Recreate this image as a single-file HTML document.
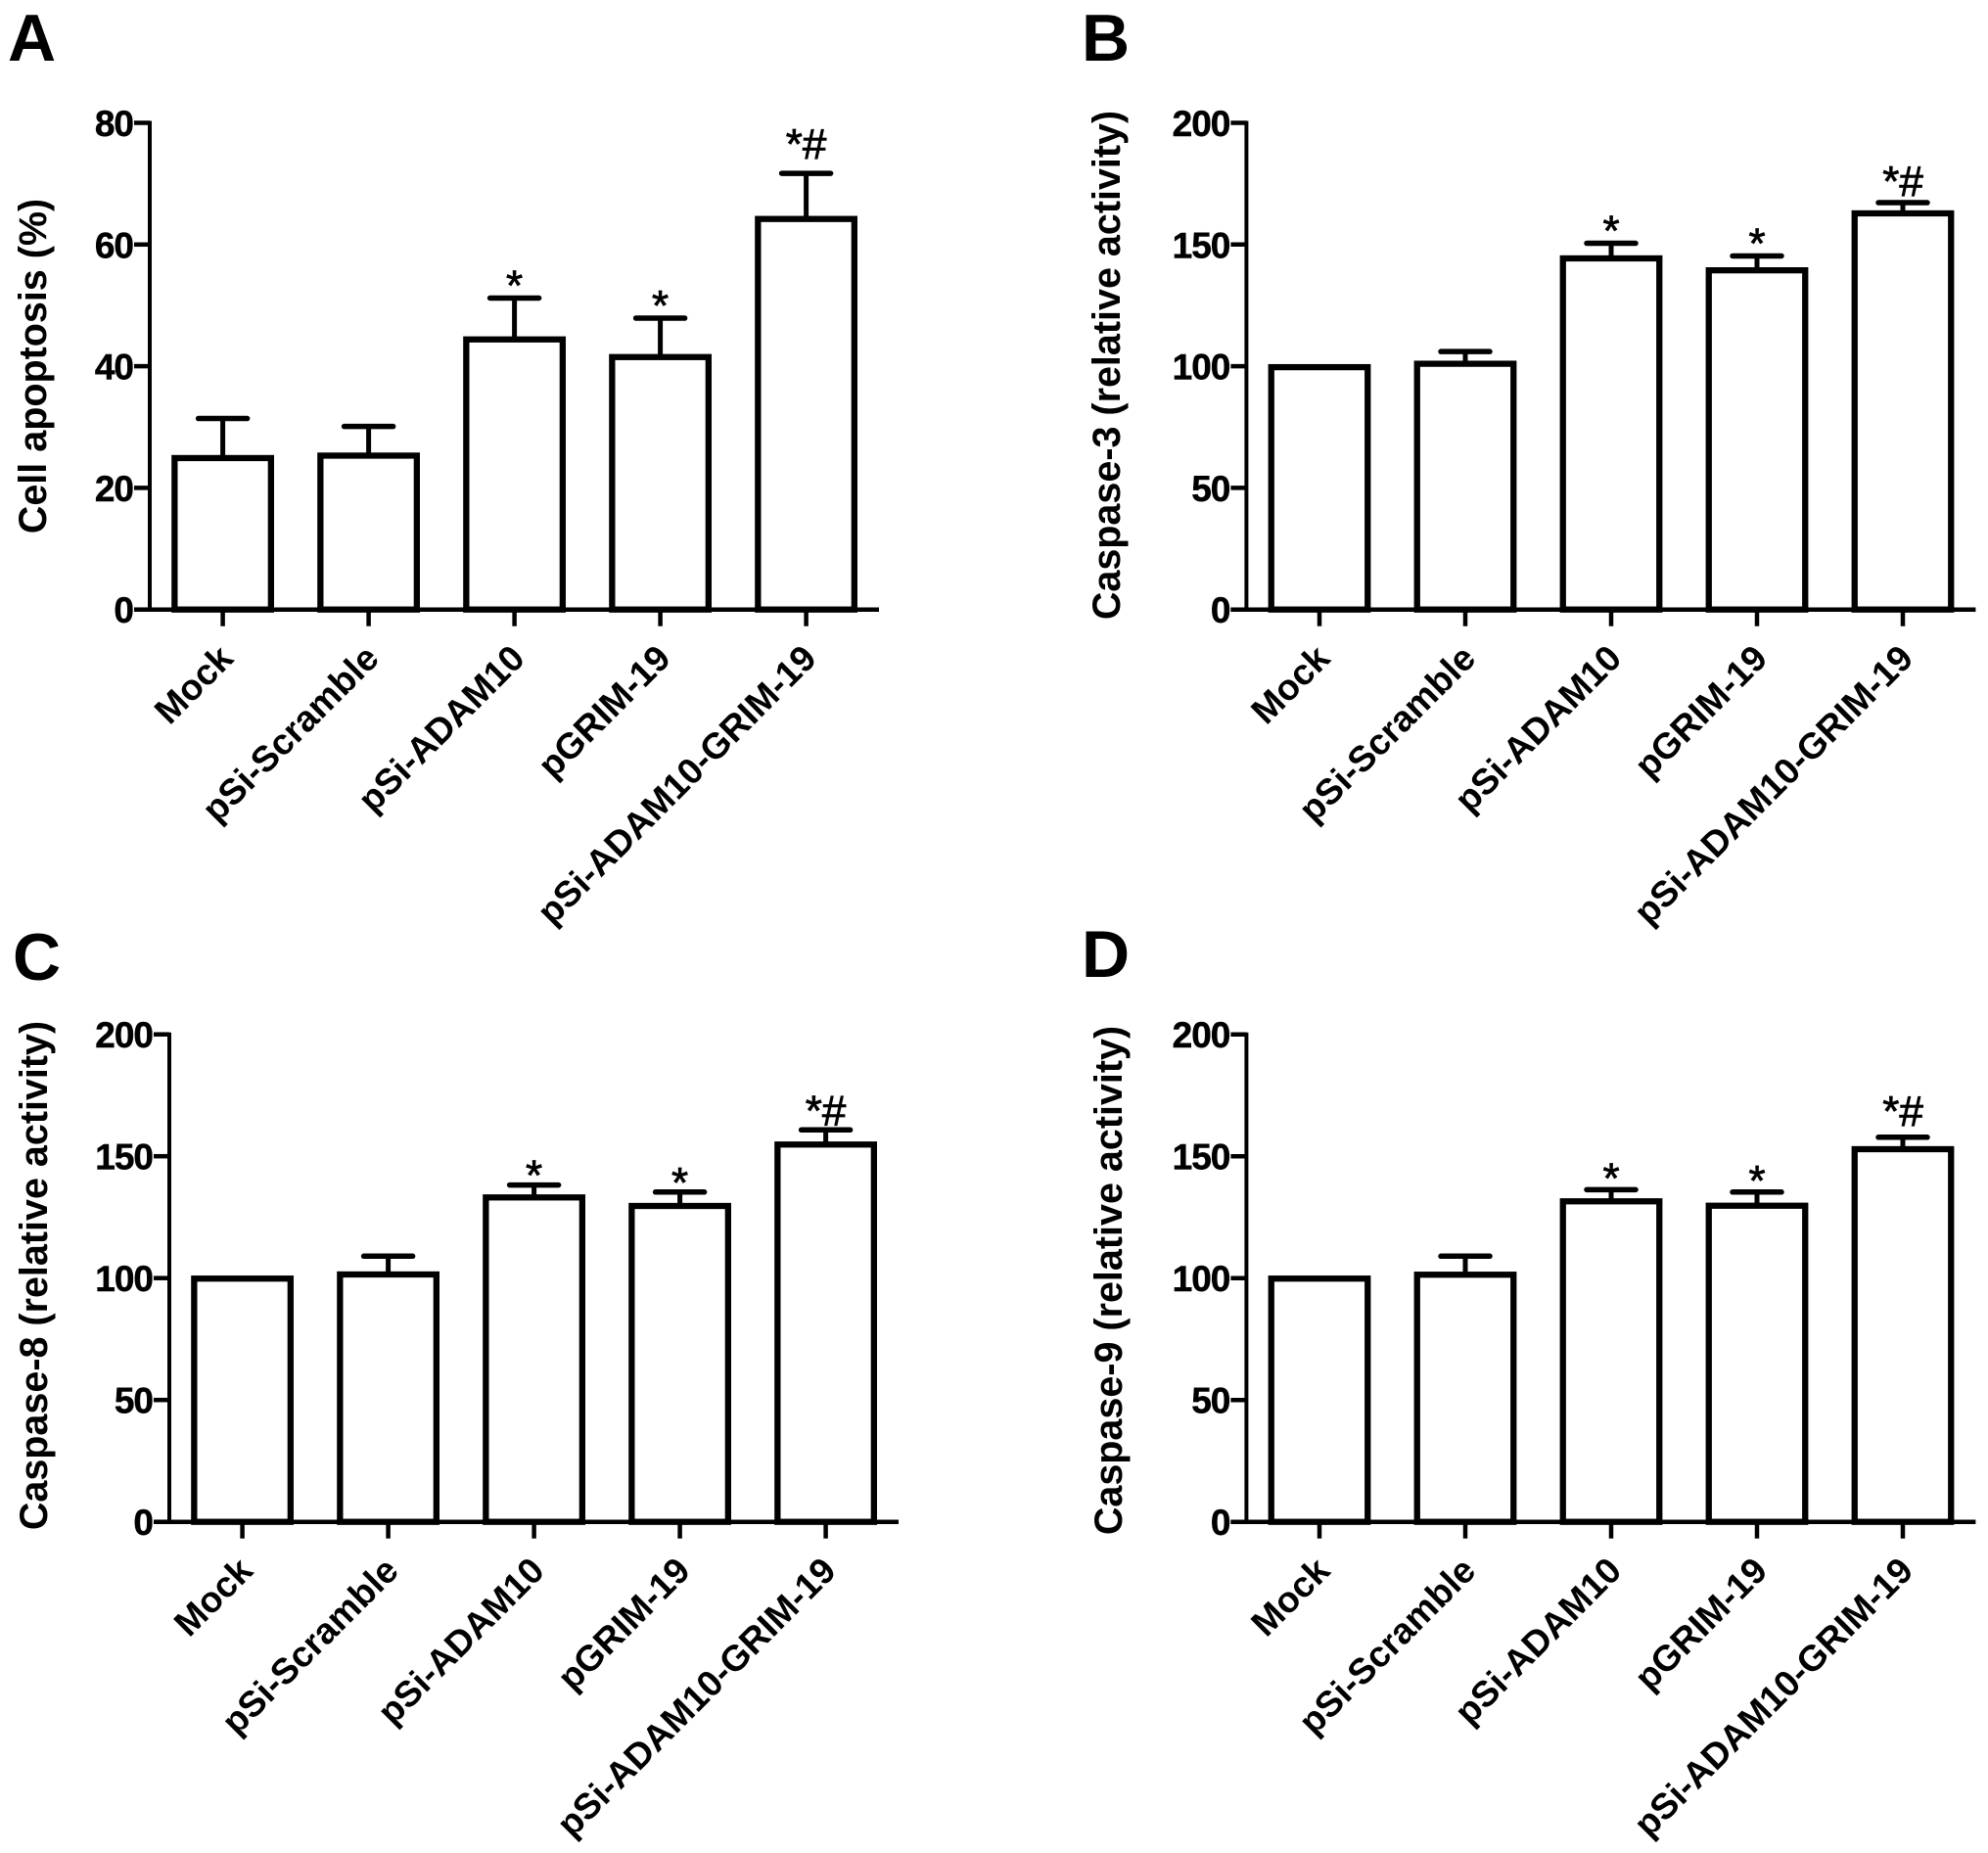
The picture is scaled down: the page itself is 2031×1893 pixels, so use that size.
<!DOCTYPE html>
<html lang="en">
<head>
<meta charset="utf-8">
<title>Apoptosis and caspase activity bar charts</title>
<style>
  html, body { margin: 0; padding: 0; background: #fff; }
  svg { display: block; }
  text { font-family: "Liberation Sans", Arial, sans-serif; fill: #000; }
  .tick-label { font-weight: 700; font-size: 37px; letter-spacing: -1px; text-anchor: end; stroke: #000; stroke-width: 0.5px; }
  .cat-label { font-weight: 700; font-size: 37px; text-anchor: end; }
  .axis-title { font-weight: 700; font-size: 39.5px; text-anchor: middle; }
  .panel-letter { font-weight: 700; font-size: 68px; }
  .annotation { font-size: 44px; text-anchor: middle; stroke: #000; stroke-width: 0.8px; }
</style>
</head>
<body>
<svg id="figure" xmlns="http://www.w3.org/2000/svg" width="2031" height="1893" viewBox="0 0 2031 1893">
  <rect x="0" y="0" width="2031" height="1893" fill="#ffffff"></rect>
</svg>
<script>
const categories = ["Mock", "pSi-Scramble", "pSi-ADAM10", "pGRIM-19", "pSi-ADAM10-GRIM-19"];

const panelAValues = [24.9, 25.3, 44.4, 41.5, 64.2];
const panelAUpper = [31.4, 30.1, 51.2, 47.9, 71.7];
const panelATicks = [0, 20, 40, 60, 80];
const panelAMarks = ["", "", "*", "*", "*#"];

const panelBValues = [99.6, 101, 144.3, 139.4, 162.8];
const panelBUpper = [99.6, 106, 150.5, 145.3, 167.2];
const panelBTicks = [0, 50, 100, 150, 200];
const panelBMarks = ["", "", "*", "*", "*#"];

const panelCValues = [99.8, 101.5, 133.1, 129.6, 154.8];
const panelCUpper = [99.8, 109, 138.2, 135.3, 160.8];
const panelCTicks = [0, 50, 100, 150, 200];
const panelCMarks = ["", "", "*", "*", "*#"];

const panelDValues = [99.8, 101.4, 131.5, 129.7, 152.9];
const panelDUpper = [99.8, 109, 136.3, 135.3, 157.8];
const panelDTicks = [0, 50, 100, 150, 200];
const panelDMarks = ["", "", "*", "*", "*#"];

const svg = document.getElementById('figure');
const NS = 'http://www.w3.org/2000/svg';

function make(tag, attrs, parent, content) {
  const el = document.createElementNS(NS, tag);
  for (const k in attrs) el.setAttribute(k, attrs[k]);
  if (content !== undefined) el.textContent = content;
  parent.appendChild(el);
  return el;
}

function drawPanel(cfg) {
  const maxV = cfg.ticks[cfg.ticks.length - 1];
  const y = v => cfg.bottom - (v / maxV) * (cfg.bottom - cfg.top);
  const x = i => cfg.left + 74.6 + i * 149;
  const right = cfg.left + 745;

  const g = make('g', {}, svg);
  
  

  const letter = make('text', { class: 'panel-letter', x: cfg.letterX, y: cfg.letterY }, g, cfg.id);
  
  

  const title = make('text', {
    class: 'axis-title',
    transform: 'translate(' + cfg.titleX + ' ' + cfg.titleY + ') rotate(-90)'
  }, g, cfg.title);
  
  

  cfg.values.forEach(function (v, i) {
    const cx = x(i);
    const upper = cfg.upper[i];

    if (upper > v) {
      const stem = make('line', { x1: cx, x2: cx, y1: y(v), y2: y(upper), stroke: '#000', 'stroke-width': 5 }, g);
      
      

      const cap = make('line', { x1: cx - 25, x2: cx + 25, y1: y(upper), y2: y(upper), stroke: '#000', 'stroke-width': 5.5, 'stroke-linecap': 'round' }, g);
      
      
    }

    const bar = make('rect', {
      x: cx - 49.25, y: y(v), width: 98.5, height: cfg.bottom - y(v),
      fill: '#fff', stroke: '#000', 'stroke-width': 6.3
    }, g);
    
    

    if (cfg.marks[i]) {
      const lift = cfg.marks[i] === '*#' ? cfg.hashGap : cfg.starGap;
      const mark = make('text', { class: 'annotation', x: cx, y: y(upper) + lift }, g, cfg.marks[i]);
      
      
    }
  });

  const yAxis = make('line', { x1: cfg.left, x2: cfg.left, y1: cfg.top - 2, y2: cfg.bottom, stroke: '#000', 'stroke-width': 4 }, g);
  
  

  const xAxis = make('line', { x1: cfg.left - 16, x2: right, y1: cfg.bottom, y2: cfg.bottom, stroke: '#000', 'stroke-width': 4.5 }, g);
  
  

  cfg.ticks.forEach(function (t) {
    const tick = make('line', { x1: cfg.left - 16, x2: cfg.left, y1: y(t), y2: y(t), stroke: '#000', 'stroke-width': 4.5 }, g);
    
    

    const label = make('text', { class: 'tick-label', x: cfg.left - 17, y: y(t) + 13.5 }, g, String(t));
    
    
  });

  categories.forEach(function (c, i) {
    const cx = x(i);
    const tick = make('line', { x1: cx, x2: cx, y1: cfg.bottom, y2: cfg.bottom + 17, stroke: '#000', 'stroke-width': 4.5 }, g);
    
    

    const lx = cx + 12.5;
    const ly = cfg.bottom + 52;
    const label = make('text', { class: 'cat-label', transform: 'translate(' + lx + ' ' + ly + ') rotate(-45)' }, g, c);
    
    
  });
}

drawPanel({ id: 'A', left: 153, top: 125.5, bottom: 622.7, title: 'Cell apoptosis (%)',
  values: panelAValues, upper: panelAUpper, ticks: panelATicks, marks: panelAMarks,
  letterX: 8, letterY: 62, titleX: 47, titleY: 374, starGap: 2, hashGap: -15 });

drawPanel({ id: 'B', left: 1273.4, top: 125.5, bottom: 622.7, title: 'Caspase-3 (relative activity)',
  values: panelBValues, upper: panelBUpper, ticks: panelBTicks, marks: panelBMarks,
  letterX: 1105, letterY: 62, titleX: 1144, titleY: 373, starGap: 2, hashGap: -7 });

drawPanel({ id: 'C', left: 173, top: 1056.7, bottom: 1554.7, title: 'Caspase-8 (relative activity)',
  values: panelCValues, upper: panelCUpper, ticks: panelCTicks, marks: panelCMarks,
  letterX: 13, letterY: 1001, titleX: 48, titleY: 1303, starGap: 5, hashGap: -5 });

drawPanel({ id: 'D', left: 1273.4, top: 1056.7, bottom: 1554.7, title: 'Caspase-9 (relative activity)',
  values: panelDValues, upper: panelDUpper, ticks: panelDTicks, marks: panelDMarks,
  letterX: 1105, letterY: 998, titleX: 1146, titleY: 1308, starGap: 3, hashGap: -12 });
</script>
</body>
</html>
